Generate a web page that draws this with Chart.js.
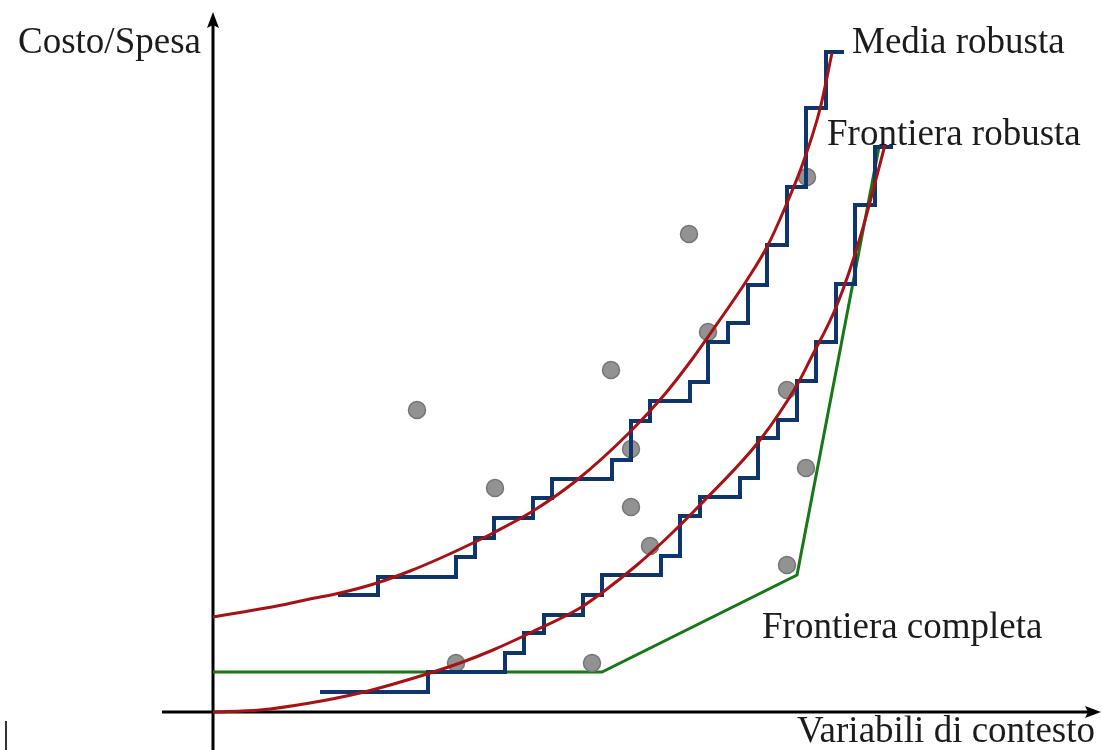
<!DOCTYPE html>
<html>
<head>
<meta charset="utf-8">
<script src="https://cdn.jsdelivr.net/npm/chart.js@4"></script>
<style>
  body { margin: 0; background: #fff; }
  #wrap { width: 1102px; height: 750px; }
</style>
</head>
<body>
<div id="wrap"><canvas id="myChart" width="1102" height="750"></canvas></div>
<script>
// valori (origine = incrocio degli assi)

// Media robusta (curva rossa alta)
const mediaX = [0, 30, 64, 97, 127, 164, 197, 230, 262, 280, 320, 364, 417, 452, 480, 497, 534, 555, 574, 590, 607, 619]
const mediaY = [95, 100, 106, 113, 119, 129, 141, 155, 170, 179, 201, 232, 280, 318, 354, 378, 432, 467, 509, 549, 603, 659]

// Media robusta a gradini (blu)
const mediaStepX = [125, 165, 243, 262, 281, 320, 339, 399, 418, 437, 477, 495, 515, 535, 554, 574, 593, 613, 631]
const mediaStepY = [117, 135, 155, 174, 194, 214, 233, 252, 291, 311, 330, 370, 389, 427, 467, 525, 604, 660, 660]

// Frontiera robusta (curva rossa bassa)
const frontX = [0, 47, 97, 147, 184, 214, 247, 280, 317, 367, 390, 424, 457, 487, 547, 584, 597, 624, 647, 672]
const frontY = [0, 2, 9, 19, 29, 38, 49, 62, 79, 104, 120, 147, 177, 207, 272, 327, 352, 407, 474, 567]

// Frontiera robusta a gradini (blu)
const frontStepX = [107, 215, 292, 311, 331, 370, 389, 448, 467, 487, 527, 545, 565, 584, 603, 623, 642, 662, 680]
const frontStepY = [20, 40, 59, 79, 97, 117, 137, 156, 196, 215, 234, 274, 292, 331, 370, 428, 507, 565, 565]

// Frontiera completa (verde)
const completaX = [0, 389, 584, 666]
const completaY = [40, 40, 137, 565]

// osservazioni
const obsX = [204, 282, 398, 476, 418, 418, 437, 495, 574, 593, 574, 594, 243, 379]
const obsY = [302, 224, 342, 478, 263, 205, 166, 380, 322, 244, 147, 535, 49, 49]

const pairs = (xs, ys) => xs.map((x, i) => ({ x: x, y: ys[i] }))

const red = 'rgb(168, 18, 20)'
const blue = 'rgb(14, 54, 108)'
const green = 'rgb(22, 120, 22)'

// assi con frecce e scritte
const axesPlugin = {
  id: 'axes',
  beforeDatasetsDraw(chart) {
    const { ctx, scales } = chart
    const ox = scales.x.getPixelForValue(0)
    const oy = scales.y.getPixelForValue(0)
    ctx.save()
    ctx.strokeStyle = '#000'
    ctx.fillStyle = '#000'
    ctx.lineWidth = 3
    ctx.beginPath()
    ctx.moveTo(162, oy)
    ctx.lineTo(1090, oy)
    ctx.moveTo(ox, 750)
    ctx.lineTo(ox, 24)
    ctx.stroke()
    // frecce
    ctx.beginPath()
    ctx.moveTo(ox, 12)
    ctx.lineTo(ox - 6, 28)
    ctx.lineTo(ox, 25)
    ctx.lineTo(ox + 6, 28)
    ctx.closePath()
    ctx.fill()
    ctx.beginPath()
    ctx.moveTo(1101, oy)
    ctx.lineTo(1085, oy - 6)
    ctx.lineTo(1088, oy)
    ctx.lineTo(1085, oy + 6)
    ctx.closePath()
    ctx.fill()
    // cursore in basso a sinistra
    ctx.strokeStyle = '#333'
    ctx.lineWidth = 2
    ctx.beginPath()
    ctx.moveTo(6, 721)
    ctx.lineTo(6, 750)
    ctx.stroke()
    ctx.restore()
  },
  afterDatasetsDraw(chart) {
    const { ctx } = chart
    ctx.save()
    ctx.fillStyle = '#1c1c1c'
    ctx.font = '37px "Liberation Serif"'
    ctx.textBaseline = 'alphabetic'
    ctx.fillText('Costo/Spesa', 18, 53)
    ctx.fillText('Media robusta', 852, 53)
    ctx.fillText('Frontiera robusta', 827, 145)
    ctx.fillText('Frontiera completa', 762, 638)
    ctx.fillText('Variabili di contesto', 797, 742)
    ctx.restore()
  }
}

const data = {
  datasets: [
    {
      label: 'Media robusta',
      data: pairs(mediaX, mediaY),
      showLine: true,
      borderColor: red,
      borderWidth: 3,
      pointRadius: 0,
      cubicInterpolationMode: 'monotone',
      order: 1
    },
    {
      label: 'Frontiera robusta',
      data: pairs(frontX, frontY),
      showLine: true,
      borderColor: red,
      borderWidth: 3,
      pointRadius: 0,
      cubicInterpolationMode: 'monotone',
      order: 1
    },
    {
      label: 'Media robusta (gradini)',
      data: pairs(mediaStepX, mediaStepY),
      showLine: true,
      stepped: 'before',
      borderColor: blue,
      borderWidth: 4,
      pointRadius: 0,
      order: 2
    },
    {
      label: 'Frontiera robusta (gradini)',
      data: pairs(frontStepX, frontStepY),
      showLine: true,
      stepped: 'before',
      borderColor: blue,
      borderWidth: 4,
      pointRadius: 0,
      order: 2
    },
    {
      label: 'Osservazioni',
      data: pairs(obsX, obsY),
      showLine: false,
      pointRadius: 8.5,
      pointBackgroundColor: 'rgb(146, 146, 146)',
      pointBorderColor: 'rgb(118, 118, 118)',
      pointBorderWidth: 1.5,
      order: 3
    },
    {
      label: 'Frontiera completa',
      data: pairs(completaX, completaY),
      showLine: true,
      borderColor: green,
      borderWidth: 3,
      pointRadius: 0,
      order: 4
    }
  ]
}

const config = {
  type: 'scatter',
  data: data,
  options: {
    responsive: false,
    animation: false,
    events: [],
    layout: { padding: 0, autoPadding: false },
    plugins: {
      legend: { display: false },
      tooltip: { enabled: false }
    },
    scales: {
      x: { type: 'linear', min: -213, max: 889, display: false },
      y: { type: 'linear', min: -38, max: 712, display: false }
    }
  },
  plugins: [axesPlugin]
}

const myChart = new Chart(document.getElementById('myChart'), config)
</script>
</body>
</html>
